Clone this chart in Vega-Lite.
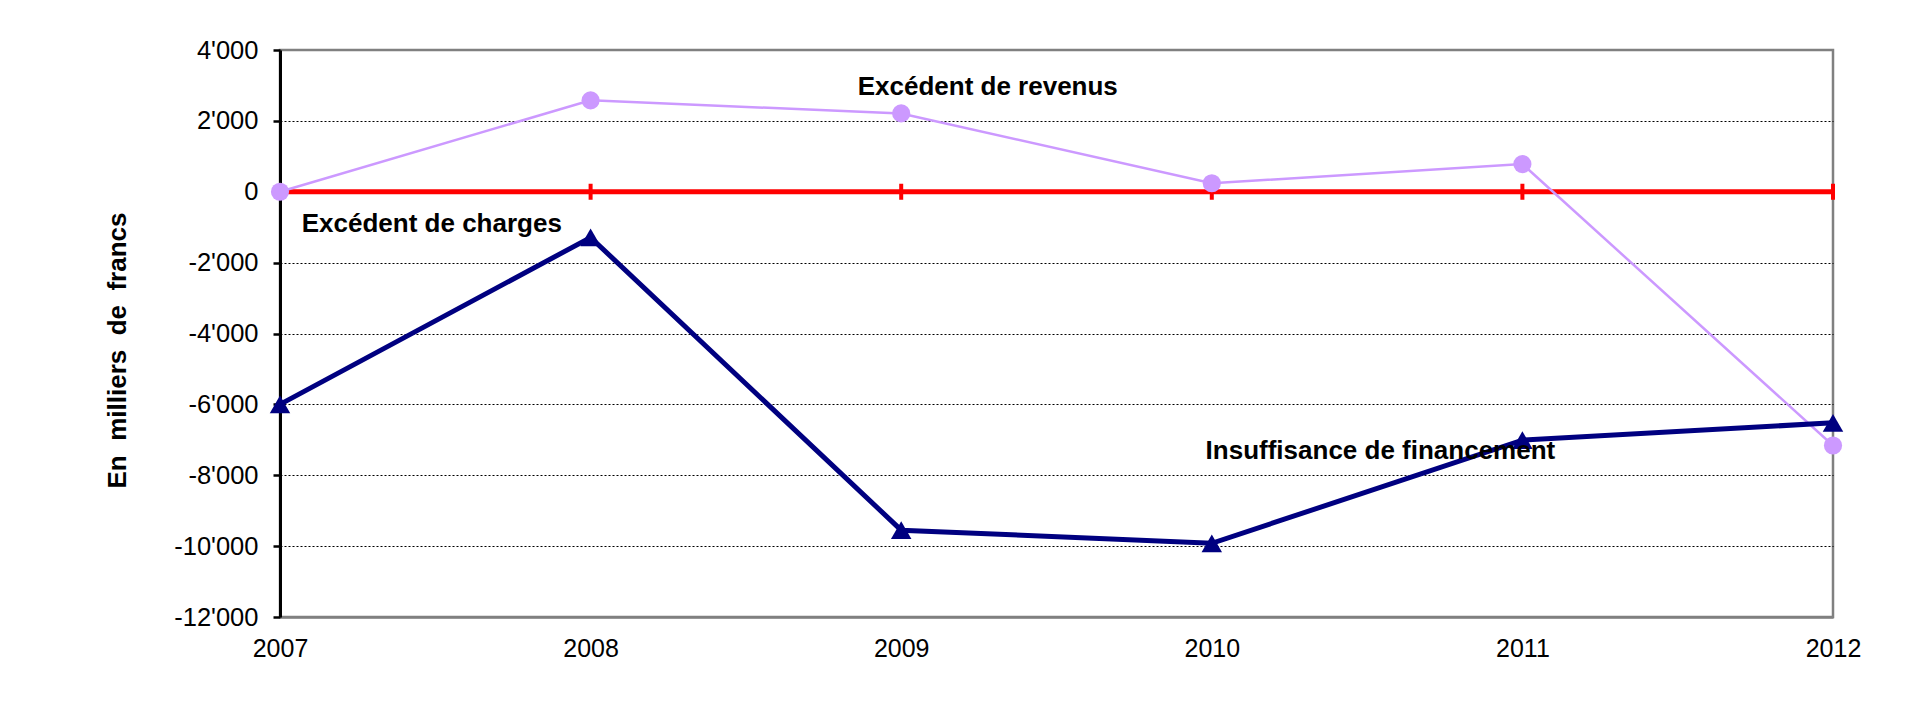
{
  "$schema": "https://vega.github.io/schema/vega-lite/v6.json",
  "width": 1553,
  "height": 567,
  "autosize": "none",
  "padding": {"left": 280, "top": 50, "right": 87, "bottom": 87},
  "background": "white",
  "config": {
    "locale": {"number": {"decimal": ".", "thousands": "'", "grouping": [3], "currency": ["", ""], "minus": "-"}},
    "font": "Liberation Sans",
    "view": {"stroke": "#808080", "strokeWidth": 2.5}
  },
  "datasets": {
    "series": [
      {"year": 2007, "series": "Excédent de revenus", "value": 0},
      {"year": 2008, "series": "Excédent de revenus", "value": 2580},
      {"year": 2009, "series": "Excédent de revenus", "value": 2210},
      {"year": 2010, "series": "Excédent de revenus", "value": 240},
      {"year": 2011, "series": "Excédent de revenus", "value": 780},
      {"year": 2012, "series": "Excédent de revenus", "value": -7160},
      {"year": 2007, "series": "Insuffisance de financement", "value": -6000},
      {"year": 2008, "series": "Insuffisance de financement", "value": -1290},
      {"year": 2009, "series": "Insuffisance de financement", "value": -9550},
      {"year": 2010, "series": "Insuffisance de financement", "value": -9920},
      {"year": 2011, "series": "Insuffisance de financement", "value": -7010},
      {"year": 2012, "series": "Insuffisance de financement", "value": -6520}
    ],
    "labels": [
      {"year": 2008.86, "value": 2950, "label": "Excédent de revenus"},
      {"year": 2007.07, "value": -910, "label": "Excédent de charges"},
      {"year": 2009.98, "value": -7310, "label": "Insuffisance de financement"}
    ]
  },
  "layer": [
    {
      "data": {"name": "series"},
      "transform": [{"filter": "datum.series === 'Excédent de revenus'"}],
      "mark": {"type": "line", "color": "#CC99FF", "strokeWidth": 2.5, "opacity": 0},
      "encoding": {
        "x": {
          "field": "year", "type": "quantitative",
          "scale": {"domain": [2007, 2012], "nice": false, "zero": false},
          "axis": {
            "values": [2007, 2008, 2009, 2010, 2011, 2012],
            "format": "d",
            "title": null,
            "grid": false,
            "ticks": false,
            "tickSize": 0,
            "labelFlush": false,
            "labelPadding": 19,
            "labelFontSize": 25,
            "labelColor": "black",
            "labelFont": "Liberation Sans",
            "domainColor": "#808080",
            "domainWidth": 2.5
          }
        },
        "y": {
          "field": "value", "type": "quantitative",
          "scale": {"domain": [-12000, 4000], "nice": false, "zero": false},
          "axis": {
            "values": [-12000, -10000, -8000, -6000, -4000, -2000, 0, 2000, 4000],
            "format": ",d",
            "title": "En\u00a0 milliers\u00a0 de\u00a0 francs",
            "titleFontSize": 26,
            "titleFontWeight": "bold",
            "titleColor": "black",
            "titleFont": "Liberation Sans",
            "titleX": -155,
            "titleY": 300,
            "titleBaseline": "alphabetic",
            "titleAngle": 270,
            "titleAlign": "center",
            "labelFontSize": 25.5,
            "labelColor": "black",
            "labelFont": "Liberation Sans",
            "labelPadding": 15,
            "tickSize": 7,
            "tickColor": "black",
            "tickWidth": 2.5,
            "domainColor": "black",
            "domainWidth": 3,
            "grid": true,
            "gridColor": "black",
            "gridWidth": 1,
            "gridDash": [2, 2],
            "gridOpacity": {"condition": {"test": "datum.value === 4000 || datum.value === -12000", "value": 0}, "value": 1}
          }
        }
      }
    },
    {
      "data": {"values": [{"zero": 0}]},
      "mark": {"type": "rule", "color": "#FF0000", "strokeWidth": 5},
      "encoding": {"y": {"field": "zero", "type": "quantitative"}}
    },
    {
      "data": {"name": "series"},
      "transform": [{"filter": "datum.series === 'Excédent de revenus'"}],
      "mark": {"type": "tick", "orient": "vertical", "color": "#FF0000", "size": 16, "thickness": 4, "opacity": 1},
      "encoding": {
        "x": {"field": "year", "type": "quantitative"},
        "y": {"datum": 0, "type": "quantitative"}
      }
    },
    {
      "data": {"name": "series"},
      "transform": [{"filter": "datum.series === 'Excédent de revenus'"}],
      "mark": {"type": "line", "color": "#CC99FF", "strokeWidth": 2.5},
      "encoding": {
        "x": {"field": "year", "type": "quantitative"},
        "y": {"field": "value", "type": "quantitative"}
      }
    },
    {
      "data": {"name": "series"},
      "transform": [{"filter": "datum.series === 'Excédent de revenus'"}],
      "mark": {"type": "point", "shape": "circle", "filled": true, "color": "#CC99FF", "size": 330, "opacity": 1},
      "encoding": {
        "x": {"field": "year", "type": "quantitative"},
        "y": {"field": "value", "type": "quantitative"}
      }
    },
    {
      "data": {"name": "series"},
      "transform": [{"filter": "datum.series === 'Insuffisance de financement'"}],
      "mark": {"type": "line", "color": "#000080", "strokeWidth": 5},
      "encoding": {
        "x": {"field": "year", "type": "quantitative"},
        "y": {"field": "value", "type": "quantitative"}
      }
    },
    {
      "data": {"name": "series"},
      "transform": [{"filter": "datum.series === 'Insuffisance de financement'"}],
      "mark": {"type": "point", "shape": "triangle-up", "filled": true, "color": "#000080", "size": 420, "opacity": 1},
      "encoding": {
        "x": {"field": "year", "type": "quantitative"},
        "y": {"field": "value", "type": "quantitative"}
      }
    },
    {
      "data": {"name": "labels"},
      "mark": {"type": "text", "align": "left", "baseline": "middle", "fontSize": 26, "fontWeight": "bold", "color": "black", "font": "Liberation Sans"},
      "encoding": {
        "x": {"field": "year", "type": "quantitative"},
        "y": {"field": "value", "type": "quantitative"},
        "text": {"field": "label"}
      }
    }
  ]
}
